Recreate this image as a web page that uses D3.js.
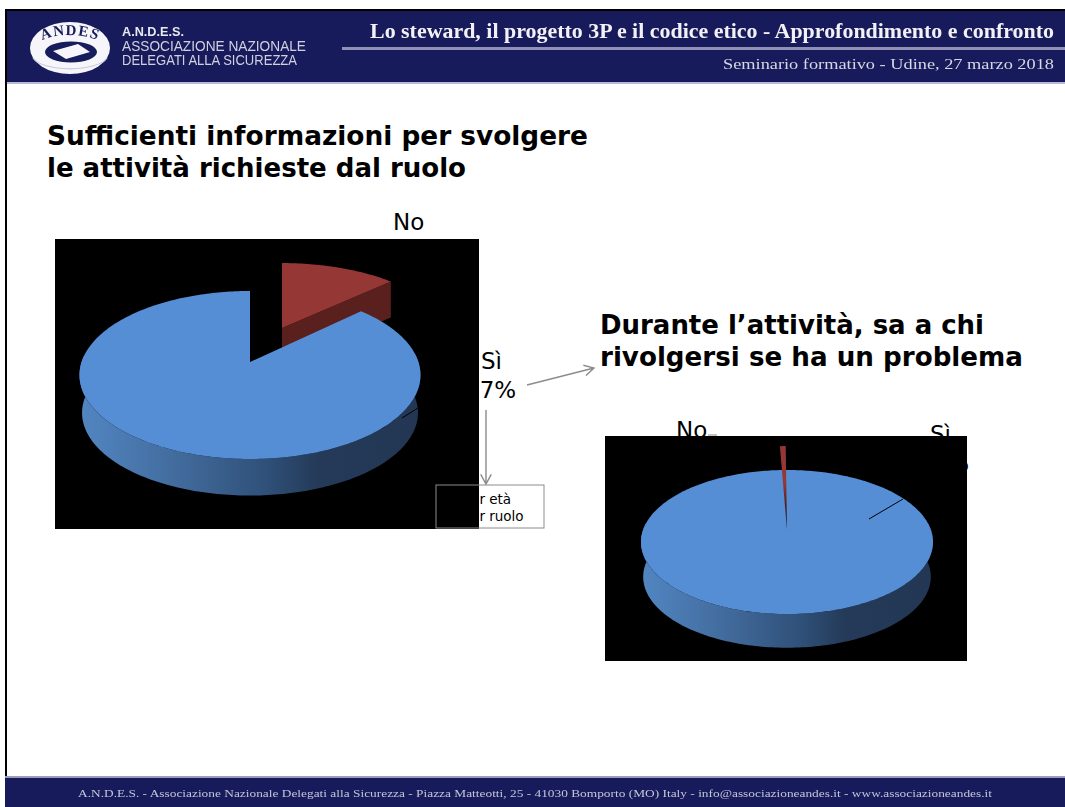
<!DOCTYPE html>
<html>
<head>
<meta charset="utf-8">
<title>Sufficienti informazioni</title>
<script src="https://cdn.jsdelivr.net/npm/d3@7"></script>
<style>
html, body { margin: 0; padding: 0; background: #fff; }
svg { display: block; }
.lab { font-family: "DejaVu Sans", sans-serif; font-size: 23px; fill: #000; }
.big { font-family: "DejaVu Sans", sans-serif; font-size: 26px; font-weight: bold; fill: #000; }
.small { font-family: "DejaVu Sans", sans-serif; font-size: 13.5px; fill: #000; }
</style>
</head>
<body>
<svg width="1065" height="807"></svg>
<script>
// valori
var categories = ["No", "Sì"];
var valuesRuolo = [13, 87];
var valuesProblema = [1, 99];
var titleRuolo = ["Sufficienti informazioni per svolgere", "le attività richieste dal ruolo"];
var titleProblema = ["Durante l’attività, sa a chi", "rivolgersi se ha un problema"];
var boxLines = ["per età", "per ruolo"];

var svg = d3.select("svg");
var defs = svg.append("defs");
var TAU = 2 * Math.PI;

defs.append("filter").attr("id", "soft")
    .append("feGaussianBlur").attr("stdDeviation", 0.7);

var wall = defs.append("linearGradient").attr("id", "wall")
    .attr("x1", 0).attr("x2", 1).attr("y1", 0).attr("y2", 0);
[[0, "#5286c2"], [0.3, "#416a9b"], [0.55, "#2f5078"], [0.7, "#243a58"], [1, "#233754"]].forEach(function (s) {
  wall.append("stop").attr("offset", s[0]).attr("stop-color", s[1]);
});

var sliver = defs.append("linearGradient").attr("id", "sliver")
    .attr("x1", 0).attr("x2", 0).attr("y1", 0).attr("y2", 1);
[[0, "#953735"], [0.45, "#953735"], [0.72, "#4a1f20"], [1, "#10161f"]].forEach(function (s) {
  sliver.append("stop").attr("offset", s[0]).attr("stop-color", s[1]);
});

// --- intestazione e piede
var navy = "#171a5b";
svg.append("rect").attr("x", 5).attr("y", 9).attr("width", 2).attr("height", 770).attr("fill", "#000");
svg.append("rect").attr("x", 5).attr("y", 9).attr("width", 1060).attr("height", 2).attr("fill", "#000");
svg.append("rect").attr("x", 7).attr("y", 11).attr("width", 1058).attr("height", 71).attr("fill", navy);
svg.append("rect").attr("x", 7).attr("y", 82).attr("width", 1058).attr("height", 2).attr("fill", "#b9bad3");
svg.append("rect").attr("x", 342).attr("y", 47).attr("width", 723).attr("height", 3).attr("fill", "#8f90b4");
svg.append("rect").attr("x", 5).attr("y", 776).attr("width", 1060).attr("height", 2).attr("fill", "#9a9bbd");
svg.append("rect").attr("x", 5).attr("y", 778).attr("width", 1060).attr("height", 29).attr("fill", navy);

var head = svg.append("g").attr("filter", "url(#soft)");

function headText(x, y, len, font, size, weight, fill, txt) {
  head.append("text").attr("x", x).attr("y", y)
      .attr("textLength", len).attr("lengthAdjust", "spacingAndGlyphs")
      .attr("font-family", font).attr("font-size", size)
      .attr("font-weight", weight).attr("fill", fill).text(txt);
}
headText(370, 38, 684, "Liberation Serif", 21, "bold", "#f2f2f6", "Lo steward, il progetto 3P e il codice etico - Approfondimento e confronto");
headText(723, 69, 331, "Liberation Serif", 15.5, "normal", "#d8d8e4", "Seminario formativo - Udine, 27 marzo 2018");
headText(122, 36, 62, "Liberation Sans", 12, "bold", "#e8e8f0", "A.N.D.E.S.");
headText(122, 51, 184, "Liberation Sans", 14.5, "normal", "#d0d0e0", "ASSOCIAZIONE NAZIONALE");
headText(122, 65, 175, "Liberation Sans", 14.5, "normal", "#d0d0e0", "DELEGATI ALLA SICUREZZA");
headText(78, 797, 914, "Liberation Serif", 10.5, "normal", "#c4c5d8", "A.N.D.E.S. - Associazione Nazionale Delegati alla Sicurezza - Piazza Matteotti, 25 - 41030 Bomporto (MO) Italy - info@associazioneandes.it - www.associazioneandes.it");

// logo
head.append("ellipse").attr("cx", 70).attr("cy", 48).attr("rx", 40).attr("ry", 26).attr("fill", "#f6f6fa");
head.append("path").attr("d", "M33 58A38 14 0 0 0 107 58").attr("fill", "none").attr("stroke", "#c9cadb").attr("stroke-width", 1.2);
head.append("ellipse").attr("cx", 71).attr("cy", 52).attr("rx", 26).attr("ry", 10.5).attr("fill", navy);
head.append("path").attr("d", "M53 51L78 44L90 52L66 59Z").attr("fill", "#f6f6fa");
defs.append("path").attr("id", "logoArc").attr("d", "M36 48A34 13 0 0 1 104 48");
head.append("text").attr("font-family", "Liberation Serif").attr("font-weight", "bold")
    .attr("font-size", 15).attr("fill", navy).attr("letter-spacing", 1.2)
    .append("textPath").attr("href", "#logoArc").attr("startOffset", "50%")
    .attr("text-anchor", "middle").text("ANDES");

// --- titoli
titleRuolo.forEach(function (t, i) {
  svg.append("text").attr("class", "big").attr("x", 47).attr("y", 145 + i * 32)
      .attr("textLength", [541, 419][i]).attr("lengthAdjust", "spacingAndGlyphs").text(t);
});
titleProblema.forEach(function (t, i) {
  svg.append("text").attr("class", "big").attr("x", 600).attr("y", 334 + i * 32)
      .attr("textLength", [384, 423][i]).attr("lengthAdjust", "spacingAndGlyphs").text(t);
});

// --- etichette e riquadro: stanno sotto ai fondi neri, che le tagliano
function lab(x, y, t) {
  svg.append("text").attr("class", "lab").attr("x", x).attr("y", y).text(t);
}
lab(393, 230, categories[0]);
lab(481, 369, categories[1]);
lab(465, 398, valuesRuolo[1] + "%");
lab(676, 438, categories[0]);
lab(930, 442, categories[1]);
lab(918, 471, valuesProblema[1] + "%");

boxLines.forEach(function (t, i) {
  svg.append("text").attr("class", "small").attr("x", 462.5).attr("y", 504 + i * 17).text(t);
});

var grey = "#8c8c8c";
svg.append("line").attr("x1", 708).attr("y1", 435).attr("x2", 717).attr("y2", 435).attr("stroke", grey);

// sfondi neri
svg.append("rect").attr("x", 55).attr("y", 239).attr("width", 424).attr("height", 290).attr("fill", "#000");
svg.append("rect").attr("x", 605).attr("y", 436).attr("width", 362).attr("height", 225).attr("fill", "#000");

svg.append("rect").attr("x", 436).attr("y", 485).attr("width", 108).attr("height", 43)
    .attr("fill", "none").attr("stroke", "#8c8c8c").attr("stroke-width", 1);

function arrow(x1, y1, x2, y2) {
  var a = Math.atan2(y2 - y1, x2 - x1), h = 11, o = 0.5;
  svg.append("path").attr("fill", "none").attr("stroke", grey).attr("stroke-width", 1.4)
      .attr("d", "M" + x1 + " " + y1 + "L" + x2 + " " + y2 +
        "M" + (x2 - h * Math.cos(a - o)) + " " + (y2 - h * Math.sin(a - o)) +
        "L" + x2 + " " + y2 +
        "L" + (x2 - h * Math.cos(a + o)) + " " + (y2 - h * Math.sin(a + o)));
}
arrow(527, 385, 594, 368);
arrow(486, 410, 486, 484);

// --- torte: proiezione prospettica di un cerchio, angolo 0 in alto, senso orario
function projector(cx, cy, far, near, rx) {
  var k = (near - far) / (near + far);
  var A = far * (1 + k);
  var B = rx * Math.sqrt(1 - k * k);
  return function (theta, sx, sy, dx, dy) {
    var s = Math.sin(theta), c = Math.cos(theta), w = 1 + k * c;
    return [cx + (dx || 0) + (sx === undefined ? 1 : sx) * B * s / w,
            cy + (dy || 0) - (sy === undefined ? 1 : sy) * A * c / w];
  };
}

function rim(p, a0, a1, sx, sy, dx, dy) {
  var n = Math.max(2, Math.ceil(Math.abs(a1 - a0) / 0.02));
  return d3.range(n + 1).map(function (i) {
    return p(a0 + (a1 - a0) * i / n, sx, sy, dx, dy);
  });
}

var line = d3.line();

function drawBlue(p, cfg, d) {
  // fianco esterno
  var top = rim(p, Math.PI * 0.47, Math.PI * 1.53);
  var bottom = rim(p, Math.PI * 1.53, Math.PI * 0.47, cfg.botScale, cfg.botScale, 0, cfg.depth);
  svg.append("path").attr("d", line(top.concat(bottom)) + "Z").attr("fill", "url(#wall)");
  // faccia superiore
  var face = cfg.fullDisc ? rim(p, 0, TAU)
    : [p(0, 0, 0)].concat(rim(p, d.startAngle, d.endAngle));
  svg.append("path").attr("d", line(face) + "Z").attr("fill", "#558ed5");
}

function drawPie(values, cfg) {
  var arcs = d3.pie().sort(null).startAngle(cfg.start).endAngle(cfg.start + TAU)(values);
  var p = projector(cfg.cx, cfg.cy, cfg.far, cfg.near, cfg.rx);
  var no = arcs[0], si = arcs[1];
  var rs = cfg.red;

  // fetta rossa staccata
  var wedge = [p(0, 0, 0, rs.dx, rs.dy)].concat(rim(p, no.startAngle, no.endAngle, rs.sx, rs.sy, rs.dx, rs.dy));
  if (rs.depth) {
    var end = p(no.endAngle, rs.sx, rs.sy, rs.dx, rs.dy);
    var tip = wedge[0];
    svg.append("path").attr("fill", "#5a201e").attr("d", line([
      tip, end, [end[0], end[1] + rs.depth], [tip[0], tip[1] + rs.depth]
    ]) + "Z");
  }
  if (!cfg.fullDisc) svg.append("path").attr("d", line(wedge) + "Z").attr("fill", rs.fill);

  drawBlue(p, cfg, si);

  if (cfg.fullDisc) svg.append("path").attr("d", line(wedge) + "Z").attr("fill", rs.fill);

  svg.append("line").attr("x1", cfg.leader[0]).attr("y1", cfg.leader[1])
      .attr("x2", cfg.leader[2]).attr("y2", cfg.leader[3])
      .attr("stroke", "#000").attr("stroke-width", 1);
}

drawPie(valuesRuolo, {
  cx: 250, cy: 362, far: 71, near: 97, rx: 170.5, depth: 38, botScale: 0.985,
  start: 0, fullDisc: false,
  red: { dx: 32, dy: -34, sx: 0.98, sy: 0.915, depth: 36, fill: "#953735" },
  leader: [402, 418, 418, 408]
});

drawPie(valuesProblema, {
  cx: 787, cy: 530, far: 60, near: 84, rx: 146, depth: 35, botScale: 0.985,
  start: -4.4 * Math.PI / 180, fullDisc: true,
  red: { dx: 0, dy: 0, sx: 0.75, sy: 1.4, depth: 0, fill: "url(#sliver)" },
  leader: [869, 519, 903, 499]
});
</script>
</body>
</html>
